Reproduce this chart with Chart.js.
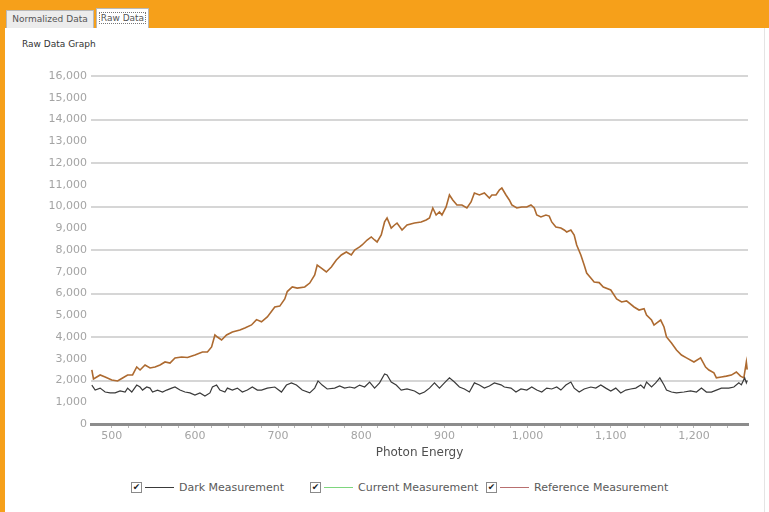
<!DOCTYPE html>
<html>
<head>
<meta charset="utf-8">
<script src="https://cdn.jsdelivr.net/npm/chart.js@4.4.1/dist/chart.umd.min.js"></script>
<style>
  body { margin: 0; width: 769px; height: 512px; background: #fff; font-family: "DejaVu Sans", sans-serif; position: relative; overflow: hidden; }
  .topbar { position: absolute; left: 0; top: 0; width: 769px; height: 28px; background: #f6a01a; }
  .leftbar { position: absolute; left: 0; top: 0; width: 5px; height: 512px; background: #f6a01a; }
  .rightline { position: absolute; left: 764px; top: 28px; width: 1px; height: 484px; background: #e4e4e4; }
  .tab { position: absolute; font-size: 9px; color: #555; border: 1px solid #b9b9b9; border-bottom: none; box-sizing: border-box; text-align: center; }
  .tab1 { left: 6px; top: 10px; width: 88px; height: 18px; line-height: 17px; background: #ececec; }
  .tab2 { left: 96px; top: 8px; width: 53px; height: 20px; line-height: 19px; background: #fff; }
  .tab2 span { border: 1px dotted #777; padding: 0 1px; }
  .caption { position: absolute; left: 22px; top: 39px; font-size: 9px; color: #333; }
  canvas { position: absolute; left: 0; top: 0; }
  .legend { position: absolute; top: 480px; left: 0; width: 769px; height: 14px; font-size: 11px; color: #5a5a5a; }
  .item { position: absolute; top: 0; display: flex; align-items: center; height: 14px; }
  .box { width: 9px; height: 9px; border: 1px solid #8a8a8a; font-size: 9px; line-height: 9px; text-align: center; color: #222; margin-right: 3px; }
  .swatch { width: 29px; height: 1px; margin-right: 5px; }
</style>
</head>
<body>
<div class="topbar"></div>
<div class="leftbar"></div>
<div class="rightline"></div>
<div class="tab tab1">Normalized Data</div>
<div class="tab tab2"><span>Raw Data</span></div>
<div class="caption">Raw Data Graph</div>
<canvas id="rawChart" width="769" height="470"></canvas>
<div class="legend">
  <div class="item" style="left:131px"><div class="box">✔</div><div class="swatch" style="background:#3a3a3a"></div>Dark Measurement</div>
  <div class="item" style="left:310px"><div class="box">✔</div><div class="swatch" style="background:#7ed67e"></div>Current Measurement</div>
  <div class="item" style="left:486px"><div class="box">✔</div><div class="swatch" style="background:#b86f6f"></div>Reference Measurement</div>
</div>
<script>
const darkEnergy = [
  476, 480, 486, 492, 498, 504, 510, 516, 519, 524,
  530, 534, 537, 542, 546, 549, 555, 561, 566, 572,
  576, 582, 588, 594, 600, 606, 612, 618, 621, 626,
  630, 636, 639, 645, 651, 657, 663, 669, 675, 680,
  687, 696, 704, 710, 716, 722, 729, 738, 744, 748,
  753, 759, 768, 774, 780, 786, 792, 798, 804, 810,
  816, 822, 828, 831, 836, 842, 848, 855, 864, 870,
  876, 882, 888, 894, 900, 906, 912, 918, 924, 930,
  936, 942, 948, 954, 960, 968, 972, 980, 986, 992,
  999, 1005, 1011, 1017, 1023, 1029, 1035, 1040, 1046, 1052,
  1056, 1062, 1068, 1076, 1082, 1088, 1094, 1100, 1106, 1112,
  1118, 1124, 1130, 1136, 1140, 1143, 1149, 1154, 1159, 1164,
  1167, 1173, 1179, 1188, 1196, 1203, 1209, 1215, 1221, 1227,
  1233, 1242, 1248, 1254, 1257, 1261, 1263, 1264
];
const darkCounts = [
  1790, 1560, 1650, 1470, 1430, 1430, 1520, 1470, 1650, 1470,
  1790, 1700, 1560, 1700, 1650, 1470, 1560, 1470, 1560, 1650,
  1700, 1560, 1470, 1430, 1330, 1430, 1290, 1430, 1700, 1790,
  1560, 1470, 1650, 1560, 1650, 1470, 1560, 1700, 1560, 1560,
  1650, 1700, 1470, 1790, 1890, 1790, 1560, 1430, 1650, 1980,
  1790, 1610, 1650, 1750, 1650, 1700, 1650, 1790, 1700, 1930,
  1650, 1890, 2300, 2250, 1930, 1790, 1560, 1610, 1520, 1380,
  1470, 1650, 1890, 1650, 1890, 2120, 1930, 1700, 1610, 1470,
  1890, 1790, 1650, 1750, 1890, 1800, 1700, 1650, 1470, 1610,
  1560, 1700, 1560, 1470, 1650, 1610, 1700, 1560, 1790, 1930,
  1650, 1470, 1610, 1700, 1650, 1790, 1650, 1520, 1650, 1430,
  1560, 1610, 1650, 1790, 1650, 1930, 1700, 1890, 2120, 1790,
  1560, 1470, 1430, 1470, 1520, 1470, 1650, 1470, 1470, 1560,
  1650, 1650, 1700, 1890, 1800, 2120, 1890, 2000
];

const refEnergy = [
  476, 478, 486, 492, 500, 507, 513, 519, 525, 530,
  534, 540, 546, 552, 558, 564, 570, 576, 584, 591,
  600, 609, 615, 620, 624, 627, 632, 638, 645, 654,
  660, 668, 674, 680, 687, 696, 702, 708, 711, 717,
  723, 732, 738, 744, 747, 752, 758, 764, 770, 776,
  782, 788, 792, 798, 801, 807, 812, 816, 819, 824,
  828, 831, 836, 840, 843, 849, 855, 864, 872, 878,
  882, 886, 890, 894, 897, 902, 906, 910, 915, 921,
  927, 932, 936, 942, 948, 954, 957, 962, 966, 969,
  974, 978, 981, 987, 993, 999, 1004, 1008, 1011, 1016,
  1022, 1026, 1029, 1034, 1040, 1044, 1047, 1052, 1056, 1059,
  1064, 1068, 1071, 1076, 1080, 1086, 1091, 1100, 1107, 1113,
  1119, 1128, 1134, 1140, 1143, 1149, 1152, 1155, 1160, 1164,
  1167, 1173, 1179, 1185, 1191, 1200, 1208, 1214, 1218, 1224,
  1227, 1233, 1239, 1245, 1251, 1256, 1260, 1263, 1264
];
const refCounts = [
  2484, 2070, 2254, 2162, 2024, 1978, 2116, 2254, 2254, 2622,
  2484, 2714, 2576, 2620, 2714, 2852, 2800, 3036, 3082, 3060,
  3174, 3312, 3310, 3542, 4094, 4000, 3864, 4094, 4232, 4324,
  4416, 4554, 4800, 4700, 4920, 5380, 5420, 5750, 6090, 6300,
  6250, 6300, 6480, 6850, 7310, 7170, 6990, 7220, 7540, 7770,
  7910, 7770, 8000, 8140, 8230, 8460, 8600, 8460, 8370, 8690,
  9290, 9470, 9010, 9150, 9240, 8920, 9150, 9240, 9290, 9380,
  9470, 9930, 9610, 9750, 9610, 9980, 10530, 10300, 10070, 10070,
  9930, 10210, 10620, 10530, 10620, 10390, 10530, 10530, 10760, 10850,
  10530, 10300, 10070, 9930, 9980, 9980, 10070, 9930, 9610, 9520,
  9610, 9560, 9290, 9060, 9010, 8920, 8830, 8920, 8690, 8230,
  7770, 7310, 6940, 6710, 6530, 6500, 6300, 6160, 5750, 5610,
  5660, 5380, 5240, 5300, 5010, 4780, 4550, 4640, 4780, 4460,
  4000, 3720, 3400, 3170, 3040, 2850, 3040, 2620, 2480, 2350,
  2120, 2160, 2200, 2250, 2390, 2200, 2120, 2850, 2500
];

// current measurement has no visible trace in the picture
const currentEnergy = [];
const currentCounts = [];

const xMin = 475, xMax = 1265;
const yMax = 16000;

const colors = {
    dark: '#3a3a3a',
    current: '#7ed67e',
    reference: '#ad6a30',
    grid: '#d6d6d6',
    tick: '#a4a4a4',
    axis: '#8c8c8c'
};

const toPoints = (xs, ys) => xs.map((x, i) => ({ x: x, y: ys[i] }));

new Chart(document.getElementById('rawChart'), {
    type: 'line',
    data: {
        datasets: [{
            label: 'Dark Measurement',
            data: toPoints(darkEnergy, darkCounts),
            borderColor: colors.dark,
            borderWidth: 1.2
        }, {
            label: 'Current Measurement',
            data: toPoints(currentEnergy, currentCounts),
            borderColor: colors.current,
            borderWidth: 1.2
        }, {
            label: 'Reference Measurement',
            data: toPoints(refEnergy, refCounts),
            borderColor: colors.reference,
            borderWidth: 1.6
        }]
    },
    options: {
        responsive: false,
        animation: false,
        elements: { point: { radius: 0 }, line: { tension: 0 } },
        layout: { padding: { left: 0, right: 21, top: 76, bottom: 6 } },
        plugins: {
            legend: { display: false },
            tooltip: { enabled: false }
        },
        scales: {
            x: {
                type: 'linear',
                min: xMin,
                max: xMax,
                afterFit: s => { s.height = 40; },
                afterBuildTicks: s => { s.ticks = s.ticks.filter(t => t.value % 20 === 0); },
                ticks: {
                    stepSize: 20,
                    autoSkip: false,
                    maxRotation: 0,
                    padding: 2,
                    color: colors.tick,
                    font: { family: 'DejaVu Sans', size: 11 },
                    callback: v => v % 100 === 0 ? v.toLocaleString('en-US') : ''
                },
                grid: { drawOnChartArea: false, tickLength: 4, color: '#b8b8b8' },
                border: { color: colors.axis, width: 3 },
                title: {
                    display: true,
                    text: 'Photon Energy',
                    color: '#505050',
                    font: { family: 'DejaVu Sans', size: 12 }
                }
            },
            y: {
                min: 0,
                max: yMax,
                afterFit: s => { s.width = 91; },
                ticks: {
                    stepSize: 1000,
                    padding: 4,
                    color: colors.tick,
                    font: { family: 'DejaVu Sans', size: 11 },
                    callback: v => v.toLocaleString('en-US')
                },
                grid: {
                    drawTicks: false,
                    lineWidth: 2,
                    color: ctx => (ctx.tick.value > 0 && ctx.tick.value % 2000 === 0) ? colors.grid : 'rgba(0,0,0,0)'
                },
                border: { display: false }
            }
        }
    }
});
</script>
</body>
</html>
